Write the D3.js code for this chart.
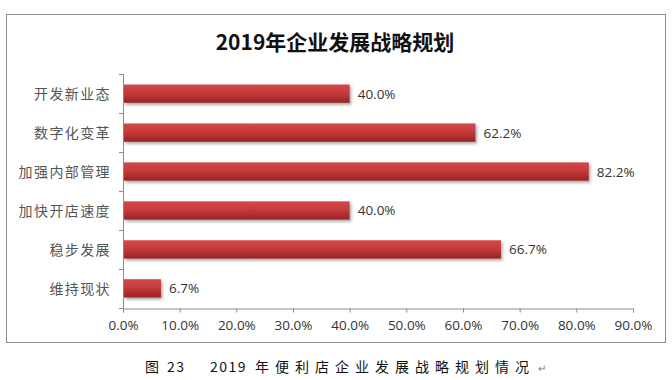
<!DOCTYPE html>
<html><head><meta charset="utf-8">
<script src="https://cdn.jsdelivr.net/npm/d3@7"></script>
<style>body{margin:0;background:#fff}svg{display:block}</style>
</head><body>
<svg id="c" width="672" height="380"></svg>
<script>
const categories = ["开发新业态","数字化变革","加强内部管理","加快开店速度","稳步发展","维持现状"];
const values = [0.400, 0.622, 0.822, 0.400, 0.667, 0.067];
const tickValues = [0,0.1,0.2,0.3,0.4,0.5,0.6,0.7,0.8,0.9];
const tickLabels = ["0.0%","10.0%","20.0%","30.0%","40.0%","50.0%","60.0%","70.0%","80.0%","90.0%"];
const title = "2019年企业发展战略规划";
const captionParts = ["图","23","2019","年便利店企业发展战略规划情况"];

const svg = d3.select("#c");
const defs = svg.append("defs");
const g1 = defs.append("linearGradient").attr("id","bg").attr("x1",0).attr("y1",0).attr("x2",0).attr("y2",1);
g1.append("stop").attr("offset","0%").attr("stop-color","#d44848");
g1.append("stop").attr("offset","45%").attr("stop-color","#c63b3b");
g1.append("stop").attr("offset","100%").attr("stop-color","#982323");
const f = defs.append("filter").attr("id","sh").attr("x","-5%").attr("y","-30%").attr("width","115%").attr("height","180%");
f.append("feDropShadow").attr("dx",1.5).attr("dy",2).attr("stdDeviation",1.5).attr("flood-color","#000").attr("flood-opacity",0.35);

// outer frame
svg.append("rect").attr("x",6.5).attr("y",14.5).attr("width",659).attr("height",328)
  .attr("fill","#fff").attr("stroke","#8c8c8c").attr("stroke-width",1);

svg.append("text").attr("x",335).attr("y",50).attr("text-anchor","middle")
  .attr("font-family","'Noto Sans CJK SC', sans-serif").attr("font-weight","bold")
  .attr("font-size",21).attr("fill","#111").text(title);

const x0 = 123;
const x = d3.scaleLinear().domain([0,0.9]).range([x0,633]);
const y = d3.scaleBand().domain(categories).range([74,308]).paddingInner(0.53).paddingOuter(0.27);
const band = d3.scaleBand().domain(categories).range([74,308]);

// y axis
const yAxis = svg.append("g");
yAxis.append("line").attr("x1",x0+0.5).attr("x2",x0+0.5).attr("y1",74).attr("y2",308).attr("stroke","#8c8c8c");
const yticks = categories.map(c=>band(c)).concat([308]);
yAxis.selectAll("line.t").data(yticks).join("line").attr("class","t")
  .attr("x1",x0-4).attr("x2",x0+0.5).attr("y1",d=>Math.round(d)+0.5).attr("y2",d=>Math.round(d)+0.5).attr("stroke","#8c8c8c");
yAxis.selectAll("text").data(categories).join("text")
  .attr("x",x0-12).attr("y",c=>band(c)+band.bandwidth()/2+5).attr("text-anchor","end")
  .attr("font-family","'Noto Sans CJK SC', serif").attr("font-size",14).attr("letter-spacing",1.4)
  .attr("fill","#555").text(c=>c);

// x axis
const xg = svg.append("g").attr("transform","translate(0,308.5)");
xg.call(d3.axisBottom(x).tickValues(tickValues).tickFormat((d,i)=>tickLabels[i]).tickSize(4).tickPadding(8));
xg.select(".domain").attr("stroke","#8c8c8c");
xg.selectAll(".tick line").attr("stroke","#8c8c8c");
xg.selectAll(".tick text").attr("font-family","'Open Sans', sans-serif").attr("font-size",13.5).attr("fill","#333");

// bars
svg.selectAll("rect.bar").data(values).join("rect").attr("class","bar")
  .attr("x",x0+1).attr("y",(d,i)=>y(categories[i])).attr("height",y.bandwidth())
  .attr("width",d=>x(d)-x0-1).attr("fill","url(#bg)").attr("filter","url(#sh)");

svg.selectAll("text.val").data(values).join("text").attr("class","val")
  .attr("x",d=>x(d)+8).attr("y",(d,i)=>y(categories[i])+y.bandwidth()/2+5)
  .attr("font-family","'Open Sans', sans-serif").attr("font-size",13.5).attr("fill","#333")
  .text(d=>d3.format(".1%")(d));

// caption
const capX = [145,167,210,255];
const capSp = [0,1.5,1.5,6];
const cap = svg.append("g").attr("font-family","'Noto Sans CJK SC', serif").attr("font-size",14).attr("fill","#111");
cap.selectAll("text").data(captionParts).join("text")
  .attr("x",(d,i)=>capX[i]).attr("y",372).attr("letter-spacing",(d,i)=>capSp[i]).text(d=>d);
cap.append("text").attr("x",538).attr("y",372).attr("font-size",10).attr("fill","#777").text("↵");
</script>
</body></html>
